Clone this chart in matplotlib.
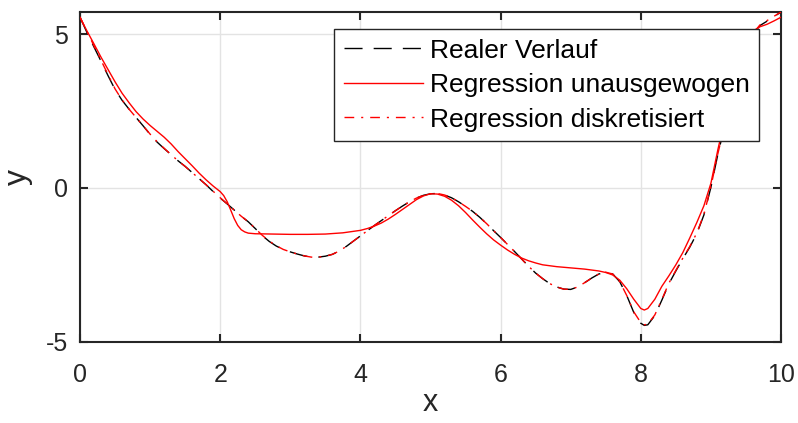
import matplotlib
matplotlib.use("Agg")
import matplotlib.pyplot as plt
import numpy as np

# ---- data ----
x_real = [0.0, 0.1, 0.2, 0.3, 0.4, 0.5, 0.6, 0.7, 0.8, 0.9, 1.0, 1.1, 1.2, 1.3, 1.4, 1.5, 1.6, 1.7, 1.8, 1.9,
          2.0, 2.1, 2.2, 2.3, 2.4, 2.5, 2.6, 2.7, 2.8, 2.9, 3.0, 3.1, 3.2, 3.3, 3.4, 3.5, 3.6, 3.7, 3.8, 3.9,
          4.0, 4.1, 4.2, 4.3, 4.4, 4.5, 4.6, 4.7, 4.8, 4.9, 5.0, 5.1, 5.2, 5.3, 5.4, 5.5, 5.6, 5.7, 5.8, 5.9,
          6.0, 6.1, 6.2, 6.3, 6.4, 6.5, 6.6, 6.7, 6.8, 6.9, 7.0, 7.1, 7.2, 7.3, 7.4, 7.5, 7.6, 7.7, 7.8, 7.9,
          8.0, 8.05, 8.1, 8.2, 8.3, 8.4, 8.5, 8.6, 8.7, 8.8, 8.9, 9.0, 9.1, 9.2, 9.3, 9.4, 9.5, 9.6, 9.7, 9.8,
          9.9, 10.0]
y_real = [5.55, 5.05, 4.58, 4.12, 3.65, 3.20, 2.85, 2.56, 2.29, 2.02, 1.74, 1.49, 1.28, 1.08, 0.88, 0.70, 0.50, 0.30, 0.10, -0.12,
          -0.33, -0.52, -0.72, -0.92, -1.10, -1.32, -1.55, -1.74, -1.89, -2.00, -2.08, -2.15, -2.21, -2.25, -2.25, -2.22, -2.16, -2.05, -1.90, -1.73,
          -1.56, -1.39, -1.22, -1.06, -0.90, -0.74, -0.59, -0.45, -0.33, -0.24, -0.19, -0.18, -0.23, -0.32, -0.45, -0.60, -0.76, -0.95, -1.16, -1.39,
          -1.61, -1.84, -2.07, -2.31, -2.55, -2.77, -2.95, -3.11, -3.22, -3.29, -3.30, -3.22, -3.08, -2.93, -2.80, -2.74, -2.80, -3.05, -3.50, -4.05,
          -4.40, -4.47, -4.45, -4.15, -3.65, -3.12, -2.70, -2.30, -1.92, -1.48, -0.88, 0.02, 1.10, 2.05, 2.85, 3.60, 4.30, 5.00, 5.28, 5.42,
          5.57, 5.72]

x_unaus = [0.0, 0.1, 0.2, 0.3, 0.4, 0.5, 0.6, 0.7, 0.8, 0.9, 1.0, 1.1, 1.2, 1.3, 1.4, 1.5, 1.6, 1.7, 1.8, 1.9,
           2.0, 2.05, 2.1, 2.15, 2.2, 2.25, 2.3, 2.35, 2.4, 2.5, 2.75, 3.0, 3.25, 3.5, 3.75, 4.0, 4.1, 4.2, 4.3, 4.4,
           4.5, 4.6, 4.7, 4.8, 4.9, 5.0, 5.1, 5.2, 5.3, 5.4, 5.5, 5.6, 5.7, 5.8, 5.9, 6.0, 6.1, 6.2, 6.3, 6.4,
           6.5, 6.6, 6.8, 7.0, 7.2, 7.4, 7.5, 7.6, 7.7, 7.8, 7.9, 8.0, 8.05, 8.1, 8.2, 8.3, 8.4, 8.5, 8.6, 8.7,
           8.8, 8.9, 9.0, 9.1, 9.2, 9.3, 9.4, 9.5, 9.6, 9.7, 9.8, 9.9, 10.0]
y_unaus = [5.55, 5.10, 4.68, 4.25, 3.85, 3.45, 3.08, 2.77, 2.48, 2.24, 2.03, 1.84, 1.65, 1.43, 1.18, 0.95, 0.72, 0.48, 0.26, 0.06,
           -0.12, -0.25, -0.45, -0.72, -1.00, -1.22, -1.36, -1.43, -1.47, -1.49, -1.50, -1.51, -1.51, -1.50, -1.46, -1.38, -1.32, -1.24, -1.14, -1.01,
           -0.86, -0.70, -0.54, -0.38, -0.26, -0.19, -0.20, -0.27, -0.40, -0.58, -0.80, -1.04, -1.27, -1.49, -1.69, -1.86, -2.02, -2.16, -2.28, -2.37,
           -2.44, -2.50, -2.56, -2.60, -2.64, -2.70, -2.75, -2.83, -3.00, -3.28, -3.62, -3.92, -3.97, -3.92, -3.62, -3.20, -2.86, -2.50, -2.10, -1.62,
           -1.12, -0.58, 0.15, 1.25, 2.25, 3.10, 3.85, 4.55, 5.10, 5.24, 5.32, 5.43, 5.55]

x_diskr = [0.0, 0.1, 0.2, 0.3, 0.4, 0.5, 0.6, 0.7, 0.8, 0.9, 1.0, 1.1, 1.2, 1.3, 1.4, 1.5, 1.6, 1.7, 1.8, 1.9,
           2.0, 2.1, 2.2, 2.3, 2.4, 2.5, 2.6, 2.7, 2.8, 2.9, 3.0, 3.1, 3.2, 3.3, 3.4, 3.5, 3.6, 3.7, 3.8, 3.9,
           4.0, 4.1, 4.2, 4.3, 4.4, 4.5, 4.6, 4.7, 4.8, 4.9, 5.0, 5.1, 5.2, 5.3, 5.4, 5.5, 5.6, 5.7, 5.8, 5.9,
           6.0, 6.1, 6.2, 6.3, 6.4, 6.5, 6.6, 6.7, 6.8, 6.9, 7.0, 7.1, 7.2, 7.3, 7.4, 7.5, 7.6, 7.7, 7.8, 7.9,
           8.0, 8.05, 8.1, 8.2, 8.3, 8.4, 8.5, 8.6, 8.7, 8.8, 8.9, 9.0, 9.1, 9.2, 9.3, 9.4, 9.5, 9.6, 9.7, 9.8,
           9.9, 10.0]
y_diskr = [5.55, 5.08, 4.62, 4.15, 3.68, 3.22, 2.86, 2.56, 2.29, 2.02, 1.75, 1.50, 1.29, 1.08, 0.88, 0.70, 0.50, 0.30, 0.10, -0.11,
           -0.32, -0.52, -0.72, -0.92, -1.10, -1.32, -1.54, -1.73, -1.88, -2.00, -2.08, -2.15, -2.21, -2.25, -2.25, -2.22, -2.16, -2.05, -1.90, -1.73,
           -1.56, -1.39, -1.22, -1.06, -0.90, -0.74, -0.59, -0.45, -0.33, -0.24, -0.19, -0.18, -0.23, -0.32, -0.45, -0.60, -0.76, -0.95, -1.16, -1.39,
           -1.61, -1.84, -2.07, -2.31, -2.55, -2.77, -2.95, -3.11, -3.22, -3.29, -3.30, -3.22, -3.08, -2.93, -2.80, -2.74, -2.80, -3.05, -3.50, -4.03,
           -4.38, -4.45, -4.43, -4.13, -3.63, -3.10, -2.68, -2.28, -1.90, -1.46, -0.86, 0.04, 1.12, 2.07, 2.87, 3.62, 4.32, 5.02, 5.30, 5.44,
           5.58, 5.72]

labels = ["Realer Verlauf", "Regression unausgewogen", "Regression diskretisiert"]
x_ticks = [0, 2, 4, 6, 8, 10]
y_ticks = [-5, 0, 5]

# ---- figure ----
plt.rcParams['font.family'] = ['Liberation Sans', 'DejaVu Sans']
W, H = 798, 423
fig = plt.figure(figsize=(W / 100, H / 100), dpi=100)
left, right, top, bottom = 80, 781, 12, 341.7
ax = fig.add_axes([left / W, 1 - bottom / H, (right - left) / W, (bottom - top) / H])

axcol = '#262626'
ax.plot(x_real, y_real, color='black', lw=1.0, dashes=(13, 8), label=labels[0], zorder=3)
ax.plot(x_unaus, y_unaus, color='#ff0000', lw=1.0, label=labels[1], zorder=4)
ax.plot(x_diskr, y_diskr, color='#ff0000', lw=1.0, dashes=(7, 5, 1.5, 5), label=labels[2], zorder=5)

ax.set_xlim(0, 10)
ax.set_ylim(-5, 5.72)
ax.set_xticks(x_ticks)
ax.set_yticks(y_ticks)
ax.set_xticklabels([str(t) for t in x_ticks])
ax.set_yticklabels([str(t) for t in y_ticks])
ax.grid(True, color='#e3e3e3', lw=1.0)
ax.set_axisbelow(True)
ax.tick_params(direction='in', length=6, width=1.5, colors=axcol, labelsize=18,
               top=True, right=True, labelcolor=axcol)
ax.tick_params(axis='x', pad=15)
ax.tick_params(axis='y', pad=8.5)
for s in ax.spines.values():
    s.set_color(axcol)
    s.set_linewidth(1.5)

ax.set_xlabel('x', fontsize=22, color=axcol, labelpad=1)
ax.set_ylabel('y', fontsize=23, color=axcol, labelpad=9)

leg = ax.legend(loc='upper right', bbox_to_anchor=(759 / W, 1 - 29 / H), bbox_transform=fig.transFigure,
                fontsize=19, frameon=True, fancybox=False, framealpha=1, edgecolor=axcol,
                handlelength=3.0, handletextpad=0.25, labelspacing=0.4, borderpad=0.36,
                borderaxespad=0)
leg.get_frame().set_linewidth(1.0)
for t in leg.get_texts():
    t.set_color('black')

fig.savefig('out.png', dpi=100)
